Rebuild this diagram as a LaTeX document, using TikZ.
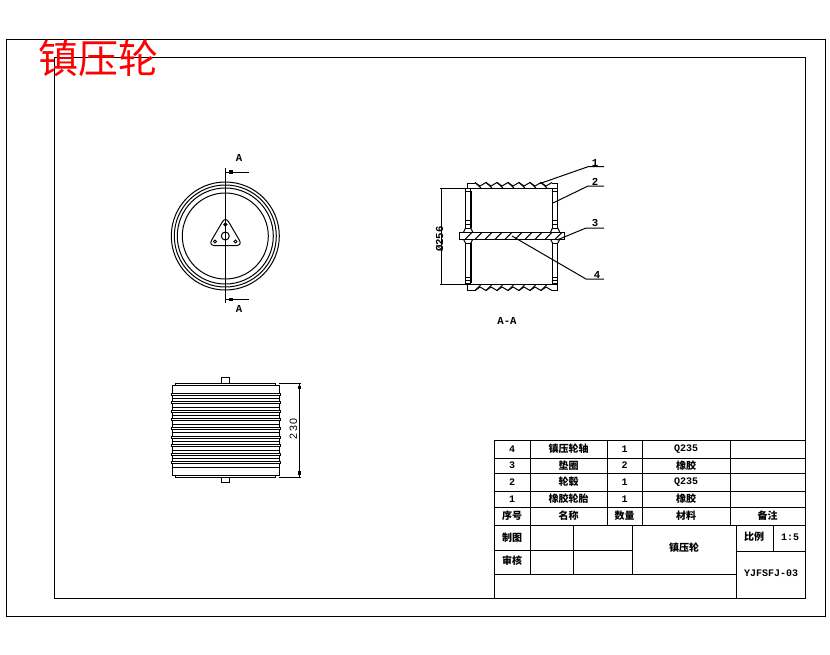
\documentclass[tikz,border=0pt]{standalone}
\usepackage{fontspec}
\setmainfont{Noto Sans CJK SC}
\setmonofont{Liberation Mono}
\setsansfont{Liberation Sans}
\newcommand{\lat}[1]{{\ttfamily\bfseries #1}}
\tikzset{
  part/.style={line width=0.75pt},
  cell/.style={inner sep=0pt,font=\bfseries\fontsize{7.5}{9}\selectfont},
  note/.style={inner sep=0pt,font=\ttfamily\bfseries\fontsize{8}{9}\selectfont},
  tip/.style={fill,minimum size=2.4pt,inner sep=0pt}
}
\begin{document}
\begin{tikzpicture}[x=0.75pt,y=-0.75pt,part]
  \useasboundingbox (0,0) rectangle (830,654);
  \fill[white] (0,0) rectangle (830,654);
  \draw (6,39) rectangle (825,616);
  \draw (54,57) rectangle (805,598);
  \node[inner sep=0pt,text=red,font=\fontsize{30}{32}\selectfont] (title) at (98,58) {镇压轮};

  \coordinate (hub) at (225.3,236);
  \foreach \r in {54,51,48,43} \draw (hub) circle[radius=\r];
  \draw[rounded corners=4.5pt] (225.5,216.5) -- (208.5,245.5) -- (242.5,245.5) -- cycle;
  \draw (hub) circle[radius=4];
  \foreach \x/\y in {225.3/224.5,215/241.5,235.5/241.5} \draw (\x,\y) circle[radius=1.5];
  \coordinate (cuttop) at (225.3,168);
  \coordinate (cutbot) at (225.3,303);
  \draw (cuttop) -- (cutbot);
  \coordinate (cutA) at (249,172);
  \coordinate (cutB) at (249,299.5);
  \draw (225.3,172) -- (cutA);
  \draw (225.3,299.5) -- (cutB);
  \node[tip] (tipA) at (231,172) {};
  \node[tip] (tipB) at (231,299.5) {};
  \node[note] (labA) at (239,158) {A};
  \node[note] (labB) at (239,309) {A};

  % section
  \draw (440,188) -- (558,188);
  \draw (440,284.5) -- (558,284.5);
  \draw (467.7,188) -- (467.7,183) -- (475,183);
  \draw (552,183) -- (557.7,183) -- (557.7,188);
  \draw (467.7,284.5) -- (467.7,290) -- (475,290);
  \draw (552,290) -- (557.7,290) -- (557.7,284.5);
  \foreach \x in {475,486,497,508,519,530,541} {
    \draw (\x,182.5) -- (\x+5,186) -- (\x+11,182.5);
    \draw (\x,182.5) -- (\x+6,188);
    \draw (\x,290.5) -- (\x+5,287) -- (\x+11,290.5);
    \draw (\x,290.5) -- (\x+6,284.5);
  }
  \foreach \x in {465.5,552.5} {
    \draw (\x,188) rectangle (\x+5.3,191);
    \draw (\x,191) rectangle (\x+5.3,228);
    \draw (\x,243) rectangle (\x+5.3,283);
    \draw (\x,220) -- (\x+5.3,220);
    \draw (\x,224.5) -- (\x+5.3,224.5);
    \draw (\x,277) -- (\x+5.3,277);
    \draw (\x,280) -- (\x+5.3,280);
    \draw (\x,228) -- (\x-2,232.3);
    \draw (\x+5.3,228) -- (\x+7.3,232.3);
    \draw (\x,243) -- (\x-2,239.3);
    \draw (\x+5.3,243) -- (\x+7.3,239.3);
  }
  \draw[line width=1.2pt] (471,191) -- (471,228);
  \draw[line width=1.2pt] (471,243) -- (471,283);
  \draw[line width=1.2pt] (552.5,191) -- (552.5,228);
  \draw[line width=1.2pt] (552.5,243) -- (552.5,283);
  \draw[fill=white] (459.3,232.3) rectangle (564.3,239.3);
  \foreach \x in {465,475,...,555} \draw (\x,239.3) -- (\x+7,232.3);
  \draw (441.7,188) -- (441.7,284.5);
  \node[note,rotate=90] (dia) at (439.5,239) {Ø256};
  \node[note] (secname) at (507,321) {A-A};

  \coordinate (lead1a) at (540,183.5);
  \coordinate (lead1b) at (588,166.7);
  \coordinate (lead1c) at (604,166.7);
  \coordinate (lead2a) at (553,203);
  \coordinate (lead2b) at (588,186);
  \coordinate (lead2c) at (604,186);
  \coordinate (lead3a) at (557,240);
  \coordinate (lead3b) at (586,228);
  \coordinate (lead3c) at (604,228);
  \coordinate (lead4a) at (512,236);
  \coordinate (lead4b) at (586,279);
  \coordinate (lead4c) at (604,279);
  \foreach \n in {1,2,3,4} \draw (lead\n a) -- (lead\n b) -- (lead\n c);
  \node[note] (tag1) at (595,163) {1};
  \node[note] (tag2) at (595,181.5) {2};
  \node[note] (tag3) at (595,222.5) {3};
  \node[note] (tag4) at (597,275) {4};

  % side view
  \draw (172.3,385.7) rectangle (279,475.7);
  \draw (175,385.7) -- (175,383.3) -- (275.7,383.3) -- (275.7,385.7);
  \draw (175,475.7) -- (175,477.7) -- (275.7,477.7) -- (275.7,475.7);
  \draw (221.3,383.3) -- (221.3,377.3) -- (229.3,377.3) -- (229.3,383.3);
  \draw (221.3,477.7) -- (221.3,482.3) -- (229.3,482.3) -- (229.3,477.7);
  \foreach \i in {0,...,8} {
    \draw[fill=white] (171,393+\i*8.6) rectangle (280,395+\i*8.6);
    \draw (172.3,398.5+\i*8.6) -- (279,398.5+\i*8.6);
  }
  \coordinate (ext1) at (301,383.3);
  \coordinate (ext2) at (301,477.3);
  \draw (279,383.3) -- (ext1);
  \draw (279,477.3) -- (ext2);
  \draw (299.3,383.3) -- (299.3,477.3);
  \node[tip] (tip1) at (299.3,387.5) {};
  \node[tip] (tip2) at (299.3,473) {};
  \node[rotate=90,inner sep=0pt,font=\sffamily\fontsize{8}{9}\selectfont] (len) at (293.5,429) {2\,3\,0};

  % title block
  \foreach \y in {440,458,473,491,507,525} \draw (494,\y) -- (805,\y);
  \draw (494,550) -- (632,550);
  \draw (494,574) -- (736.7,574);
  \draw (736.7,551.7) -- (805,551.7);
  \draw (494,440) -- (494,598);
  \draw (530,440) -- (530,574);
  \foreach \x in {607,642,730} \draw (\x,440) -- (\x,525);
  \foreach \x in {573.5,632} \draw (\x,525) -- (\x,574);
  \draw (736.7,525) -- (736.7,598);
  \draw (773,525) -- (773,551.7);
  \foreach \y/\a/\b/\c/\d in {449/4/镇压轮轴/1/\lat{Q235},465.5/3/垫圈/2/橡胶,482/2/轮毂/1/\lat{Q235},499/1/橡胶轮胎/1/橡胶} {
    \node[cell] (no\a) at (512,\y) {\lat{\a}};
    \node[cell] (name\a) at (568.5,\y) {\b};
    \node[cell] (qty\a) at (624.5,\y) {\lat{\c}};
    \node[cell] (mat\a) at (686,\y) {\d};
  }
  \node[cell] (headno) at (512,516) {序号};
  \node[cell] (headname) at (568.5,516) {名称};
  \node[cell] (headqty) at (624.5,516) {数量};
  \node[cell] (headmat) at (686,516) {材料};
  \node[cell] (headrem) at (767.5,516) {备注};
  \node[cell] (draw) at (512,538) {制图};
  \node[cell] (check) at (512,561) {审核};
  \node[cell] (wheel) at (684,548) {镇压轮};
  \node[cell] (ratio) at (754,537) {比例};
  \node[cell] (ratioval) at (790,537) {\lat{1:5}};
  \node[cell] (code) at (771,573) {\lat{YJFSFJ-03}};
\end{tikzpicture}
\end{document}
